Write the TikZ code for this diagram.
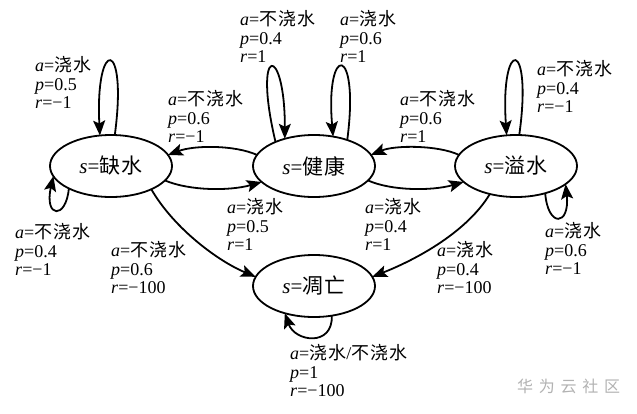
\documentclass[tikz,border=0pt]{standalone}
\usepackage{fontspec}
\setmainfont{Liberation Serif}
\newfontfamily\cjk[LetterSpace=6]{Noto Sans CJK SC}
\newfontfamily\wmcjk[LetterSpace=36]{Noto Sans CJK SC}
\usetikzlibrary{shapes.geometric,arrows.meta}
\newcommand{\zh}[1]{{\cjk #1}}
\newcommand{\apr}[3]{\textit{a}=#1\\\textit{p}=#2\\\textit{r}=#3}
\tikzset{
  state/.style={ellipse, draw, line width=1.8pt, minimum width=122pt, minimum height=62pt,
    inner sep=0pt, outer sep=0pt, font=\fontsize{21}{24}\selectfont},
  arr/.style={line width=1.8pt, -{Stealth[length=15pt,width=12pt,inset=3pt]}},
  tag/.style={anchor=north west, align=left, inner sep=0pt, font=\fontsize{18}{18.8}\selectfont},
}
\begin{document}
\begin{tikzpicture}[x=1pt,y=-1pt]
  \useasboundingbox (0,0) rectangle (637,413);
  % states
  \node[state] (queshui)   at (111,166) {\textit{s}=\zh{缺水}};
  \node[state] (jiankang)  at (314,166) {\textit{s}=\zh{健康}};
  \node[state] (yishui)    at (516,166) {\textit{s}=\zh{溢水}};
  \node[state] (diaowang)  at (314,286) {\textit{s}=\zh{凋亡}};
  % self loops
  \draw[arr] (queshui.83) .. controls (128,37) and (95,37) .. (queshui.110);
  \draw[arr] (queshui.208) .. controls (66,220) and (44,218) .. (queshui.190);
  \draw[arr] (jiankang.148) .. controls (252,43) and (285,43) .. (jiankang.137);
  \draw[arr] (jiankang.38) .. controls (360,43) and (325,43) .. (jiankang.57);
  \draw[arr] (yishui.84) .. controls (533,37) and (500,37) .. (yishui.107);
  \draw[arr] (yishui.-43) .. controls (548,228) and (570,226) .. (yishui.-20);
  \draw[arr] (diaowang.-59) .. controls (333,347) and (295,342) .. (diaowang.223);
  % transitions
  \draw[arr] (jiankang.169) .. controls (235,145) and (195,145) .. (queshui.11);
  \draw[arr] (queshui.-15) .. controls (190,191) and (230,191) .. (jiankang.197);
  \draw[arr] (yishui.169) .. controls (438,145) and (395,145) .. (jiankang.11);
  \draw[arr] (jiankang.-15) .. controls (392,191) and (432,191) .. (yishui.197);
  \draw[arr] (queshui.-30) .. controls (175,230) and (220,262) .. (diaowang.171);
  \draw[arr] (yishui.227) .. controls (465,235) and (410,262) .. (diaowang.9);
  % labels
  \node[tag] (lqs1) at (35,56)   {\apr{\zh{浇水}}{0.5}{−1}};
  \node[tag] (lqs2) at (15,223)  {\apr{\zh{不浇水}}{0.4}{−1}};
  \node[tag] (ljk1) at (240,10)  {\apr{\zh{不浇水}}{0.4}{1}};
  \node[tag] (ljk2) at (340,10)  {\apr{\zh{浇水}}{0.6}{1}};
  \node[tag] (lys1) at (537,60)  {\apr{\zh{不浇水}}{0.4}{−1}};
  \node[tag] (lys2) at (545,222) {\apr{\zh{浇水}}{0.6}{−1}};
  \node[tag] (ldw)  at (290,344) {\apr{\zh{浇水}/\zh{不浇水}}{1}{−100}};
  \node[tag] (ljq)  at (168,90)  {\apr{\zh{不浇水}}{0.6}{−1}};
  \node[tag] (lqj)  at (227,198) {\apr{\zh{浇水}}{0.5}{1}};
  \node[tag] (lyj)  at (400,90)  {\apr{\zh{不浇水}}{0.6}{1}};
  \node[tag] (ljy)  at (365,198) {\apr{\zh{浇水}}{0.4}{1}};
  \node[tag] (lqd)  at (111,241) {\apr{\zh{不浇水}}{0.6}{−100}};
  \node[tag] (lyd)  at (437,241) {\apr{\zh{浇水}}{0.4}{−100}};
  % watermark
  \node[anchor=base west, inner sep=0pt, text=gray!60, font=\fontsize{16}{16}\wmcjk] (mark) at (517,392) {华为云社区};
\end{tikzpicture}
\end{document}
